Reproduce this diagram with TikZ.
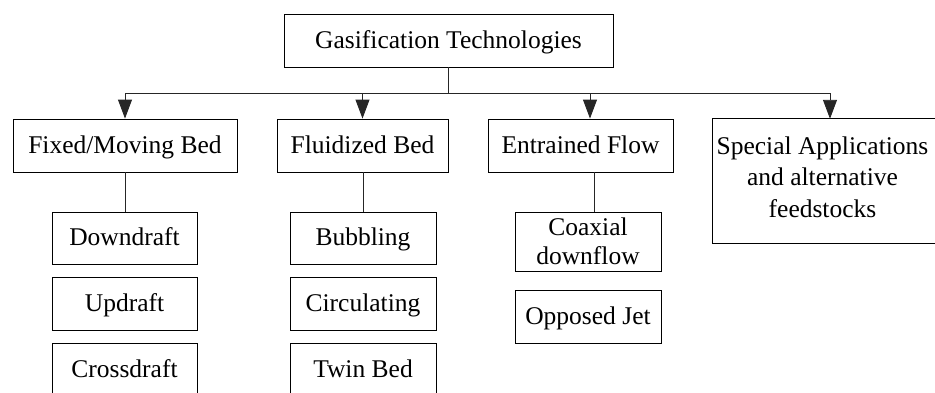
\documentclass[tikz,border=0pt]{standalone}
\usepackage{fontspec}
\setmainfont{Liberation Serif}
\usetikzlibrary{arrows.meta}
\tikzset{
  boxline/.style={draw=black, line width=0.9pt},
  box/.style={boxline, fill=white, align=center, inner sep=0pt,
    font=\fontsize{25.5}{29.5}\selectfont},
  onebox/.style={box, text height=18.5pt, text depth=3.5pt},
  conn/.style={line width=0.9pt, draw=black!85},
  arr/.style={conn, -{Triangle[length=19pt,width=14pt]}}
}
\begin{document}
\begin{tikzpicture}[x=1pt,y=-1pt]
\useasboundingbox (0,0) rectangle (935,392);
\clip (0,0) rectangle (935,392);
% level 0
\node[onebox, minimum width=329pt, minimum height=53pt] (top) at (448.5,40.5) {Gasification Technologies};
% level 1
\node[onebox, minimum width=224pt, minimum height=53pt] (fixed) at (125,145.5) {Fixed/Moving Bed};
\node[onebox, minimum width=171pt, minimum height=53pt] (fluid) at (362.5,145.5) {Fluidized Bed};
\node[onebox, minimum width=185pt, minimum height=53pt] (entr) at (580.5,145.5) {Entrained Flow};
% special box: its right side runs past the picture's edge
\node[draw=none, minimum width=219pt, minimum height=124pt, inner sep=0pt] (spec) at (822.5,181) {};
\draw[boxline] ([xshift=40pt]spec.north east) -- (spec.north west) -- (spec.south west) -- ([xshift=40pt]spec.south east);
\node[box, draw=none, fill=none, font=\fontsize{25.5}{31.5}\selectfont] (spectext) at ([yshift=4pt]spec.center) {Special Applications\\and alternative\\feedstocks};
% level 2
\node[onebox, minimum width=145pt, minimum height=52pt] (down) at (124.5,238) {Downdraft};
\node[onebox, minimum width=145pt, minimum height=53pt] (up) at (124.5,303.5) {Updraft};
\node[onebox, minimum width=145pt, minimum height=53pt] (cross) at (124.5,369.5) {Crossdraft};
\node[onebox, minimum width=146pt, minimum height=52pt] (bub) at (363,238) {Bubbling};
\node[onebox, minimum width=146pt, minimum height=53pt] (circ) at (363,303.5) {Circulating};
\node[onebox, minimum width=146pt, minimum height=53pt] (twin) at (363,369.5) {Twin Bed};
\node[box, minimum width=146pt, minimum height=59pt] (coax) at (588,241.5) {Coaxial\\downflow};
\node[onebox, minimum width=146pt, minimum height=53pt] (opp) at (588,316.5) {Opposed Jet};
% bus
\coordinate (bus) at (448.5,93);
\coordinate (ex) at (594,0);
\coordinate (ax) at (590,0);
\coordinate (sx) at (830,0);
\draw[conn] (top.south) -- (bus);
\draw[arr] (bus) -| (fixed.north);
\draw[arr] (bus) -| (fluid.north);
\draw[arr] (bus) -| (entr.north -| ax);
\draw[arr] (bus) -| (spec.north -| sx);
% tree lines
\draw[conn] (fixed.south) -- (fixed.south |- down.north);
\draw[conn] (fluid.south -| bub.north) -- (bub.north);
\draw[conn] (entr.south -| ex) -- (coax.north -| ex);
\end{tikzpicture}
\end{document}
